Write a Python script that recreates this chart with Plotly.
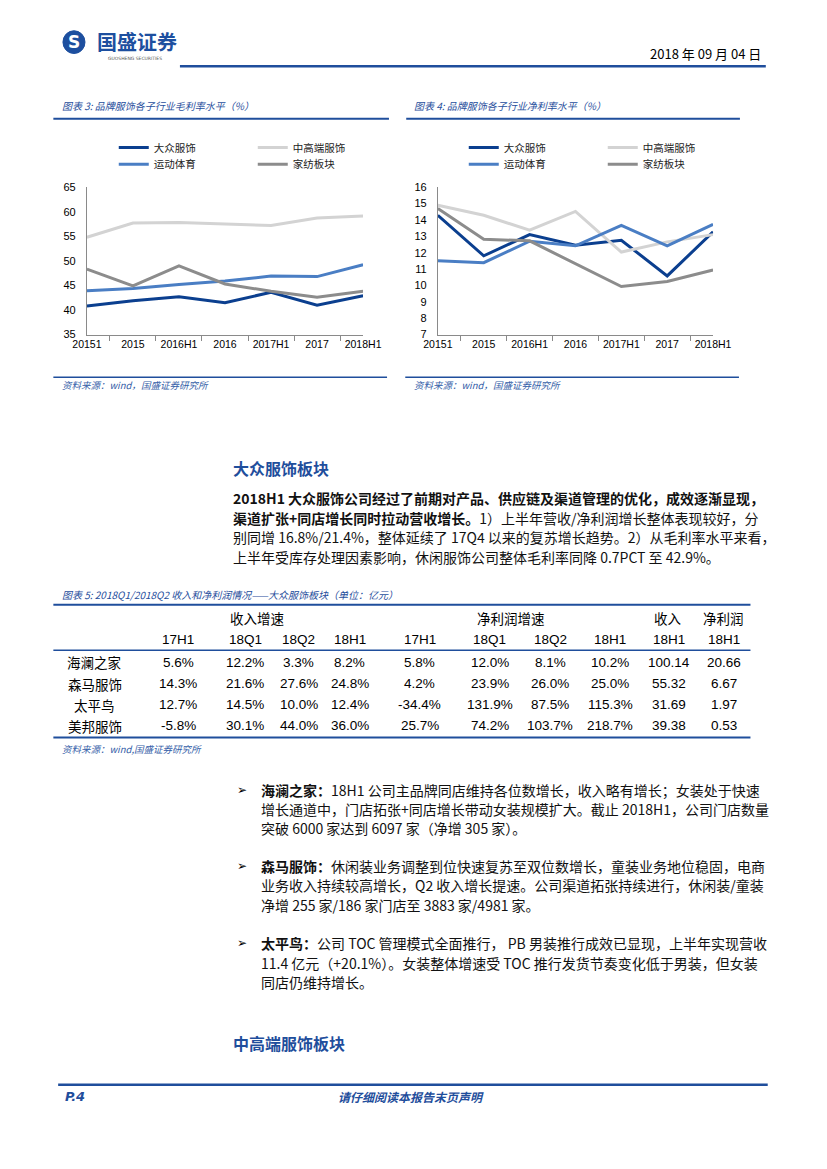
import plotly.graph_objects as go

W, H = 827, 1169

def fx(x):
    return x / W

def fy(y):
    return 1 - y / H

# ---------------- data ----------------
categories = ["20151", "2015", "2016H1", "2016", "2017H1", "2017", "2018H1"]
series_names = ["大众服饰", "中高端服饰", "运动体育", "家纺板块"]

gross_mass = [40.8, 41.9, 42.7, 41.5, 43.6, 41.0, 42.9]
gross_high = [54.8, 57.7, 57.8, 57.5, 57.2, 58.7, 59.1]
gross_sport = [43.9, 44.4, 45.2, 45.9, 46.9, 46.8, 49.2]
gross_home = [48.3, 44.9, 49.0, 45.3, 43.8, 42.6, 43.8]

net_mass = [14.28, 11.81, 13.10, 12.46, 12.76, 10.58, 13.27]
net_high = [14.89, 14.28, 13.37, 14.52, 12.04, 12.66, 13.10]
net_sport = [11.51, 11.39, 12.70, 12.42, 13.67, 12.42, 13.73]
net_home = [14.69, 12.82, 12.72, 11.35, 9.93, 10.24, 10.94]

y1_ticks = [35, 40, 45, 50, 55, 60, 65]
y2_ticks = [7, 8, 9, 10, 11, 12, 13, 14, 15, 16]

companies = ["海澜之家", "森马服饰", "太平鸟", "美邦服饰"]
rev_17h1 = [5.6, 14.3, 12.7, -5.8]
rev_18q1 = [12.2, 21.6, 14.5, 30.1]
rev_18q2 = [3.3, 27.6, 10.0, 44.0]
rev_18h1 = [8.2, 24.8, 12.4, 36.0]
np_17h1 = [5.8, 4.2, -34.4, 25.7]
np_18q1 = [12.0, 23.9, 131.9, 74.2]
np_18q2 = [8.1, 26.0, 87.5, 103.7]
np_18h1 = [10.2, 25.0, 115.3, 218.7]
revenue_18h1 = [100.14, 55.32, 31.69, 39.38]
netprofit_18h1 = [20.66, 6.67, 1.97, 0.53]
table_group_headers = ["收入增速", "净利润增速", "收入", "净利润"]
table_sub_headers = ["17H1", "18Q1", "18Q2", "18H1", "17H1", "18Q1", "18Q2", "18H1", "18H1", "18H1"]

# ---------------- styles ----------------
colors = ["#0B3F8F", "#D3D3D3", "#4A7EC4", "#8C8C8C"]
BLUE = "#1F4E9C"
SRC_BLUE = "#3560A8"
CJK = "Noto Sans CJK SC"
TICKFONT = "Liberation Sans, Arial, sans-serif"

fig = go.Figure()

gross = [gross_mass, gross_high, gross_sport, gross_home]
net = [net_mass, net_high, net_sport, net_home]
legend_ids1 = ["legend", "legend", "legend2", "legend2"]
legend_ids2 = ["legend3", "legend3", "legend4", "legend4"]

for i, name in enumerate(series_names):
    fig.add_trace(go.Scatter(
        x=categories, y=gross[i], name=name, mode="lines",
        line=dict(color=colors[i], width=3), xaxis="x", yaxis="y",
        legend=legend_ids1[i], hoverinfo="skip"))
for i, name in enumerate(series_names):
    fig.add_trace(go.Scatter(
        x=categories, y=net[i], name=name, mode="lines",
        line=dict(color=colors[i], width=3), xaxis="x2", yaxis="y2",
        legend=legend_ids2[i], hoverinfo="skip"))

axis_common = dict(showgrid=False, zeroline=False, showline=True,
                   linecolor="#8A8A8A", linewidth=1, fixedrange=True)

fig.update_layout(
    xaxis=dict(domain=[fx(75), fx(363)], type="category", ticks="outside",
               tickson="boundaries", ticklen=5, tickcolor="#8A8A8A", tickangle=0,
               tickfont=dict(family=TICKFONT, size=10.5, color="#000"),
               anchor="y", **axis_common),
    yaxis=dict(domain=[fy(332), fy(183)], range=[35, 65], tickvals=y1_ticks,
               ticks="", ticklabelstandoff=8,
               tickfont=dict(family=TICKFONT, size=11, color="#000"),
               anchor="x", **axis_common),
    xaxis2=dict(domain=[fx(441), fx(728)], type="category", ticks="outside",
                tickson="boundaries", ticklen=5, tickcolor="#8A8A8A", tickangle=0,
                tickfont=dict(family=TICKFONT, size=10.5, color="#000"),
                anchor="y2", **axis_common),
    yaxis2=dict(domain=[fy(332), fy(183)], range=[7, 16], tickvals=y2_ticks,
                ticks="", ticklabelstandoff=8,
                tickfont=dict(family=TICKFONT, size=11, color="#000"),
                anchor="x2", **axis_common),
)

leg_common = dict(orientation="h", xanchor="left", yanchor="middle",
                  bgcolor="rgba(0,0,0,0)", entrywidth=94, entrywidthmode="pixels",
                  font=dict(family=CJK, size=10.5, color="#222"),
                  itemclick=False, itemdoubleclick=False)
fig.update_layout(
    legend=dict(x=fx(103), y=fy(143), **leg_common),
    legend2=dict(x=fx(103), y=fy(160), **leg_common),
    legend3=dict(x=fx(468), y=fy(143), **leg_common),
    legend4=dict(x=fx(468), y=fy(160), **leg_common),
)

shapes = []
annotations = []

def hline(x0, x1, y, width=2, color=BLUE):
    shapes.append(dict(type="line", xref="paper", yref="paper",
                       x0=fx(x0), x1=fx(x1), y0=fy(y), y1=fy(y),
                       line=dict(color=color, width=width)))

def text(x, y, s, size=14, color="#111", family=CJK, anchor="left",
         style="normal", weight="normal"):
    annotations.append(dict(xref="paper", yref="paper", x=fx(x), y=fy(y),
                            text=s, showarrow=False, xanchor=anchor,
                            yanchor="middle",
                            font=dict(family=family, size=size, color=color,
                                      style=style, weight=weight)))

# ---------------- header ----------------
shapes.append(dict(type="circle", xref="paper", yref="paper",
                   x0=fx(50), x1=fx(73), y0=fy(48), y1=fy(25),
                   fillcolor="#1D4F9F", line=dict(color="#1D4F9F", width=1)))
text(61.5, 36.5, "<b>S</b>", size=17, color="#FFFFFF", family="DejaVu Sans", anchor="center")
text(83, 36, "<b>国盛证券</b>", size=20, color="#1D4F9F")
text(125, 53, "GUOSHENG SECURITIES", size=4.5, color="#555", family="DejaVu Sans", anchor="center")
text(780, 48, "2018 年 09 月 04 日", size=13, color="#000", anchor="right")
hline(172, 783, 61, width=2.5)

# ---------------- chart titles / sources ----------------
text(47, 101, "图表 3: 品牌服饰各子行业毛利率水平（%）", size=10, color=BLUE, style="italic")
text(414, 101, "图表 4: 品牌服饰各子行业净利率水平（%）", size=10, color=BLUE, style="italic")
hline(40, 390, 114, width=2)
hline(408, 756, 114, width=2)
hline(40, 388, 375, width=1.5)
hline(407, 755, 375, width=1.5)
text(47, 383, "资料来源：wind，国盛证券研究所", size=9.5, color=SRC_BLUE, style="italic")
text(414, 383, "资料来源：wind，国盛证券研究所", size=9.5, color=SRC_BLUE, style="italic")

# ---------------- section 1 ----------------
text(225, 467, "<b>大众服饰板块</b>", size=16, color=BLUE)
para = [
    "<b>2018H1 大众服饰公司经过了前期对产品、供应链及渠道管理的优化，成效逐渐显现，</b>",
    "<b>渠道扩张+同店增长同时拉动营收增长。</b>1）上半年营收/净利润增长整体表现较好，分",
    "别同增 16.8%/21.4%，整体延续了 17Q4 以来的复苏增长趋势。2）从毛利率水平来看，",
    "上半年受库存处理因素影响，休闲服饰公司整体毛利率同降 0.7PCT 至 42.9%。",
]
for i, line in enumerate(para):
    text(225, 497 + 20 * i, line, size=14)

# ---------------- table ----------------
text(47, 595, "图表 5: 2018Q1/2018Q2 收入和净利润情况——大众服饰板块（单位：亿元）",
     size=10, color=BLUE, style="italic")
hline(40, 767, 605, width=2)
hline(40, 767, 651, width=1.5)
hline(40, 767, 739, width=2)
text(47, 751, "资料来源：wind,国盛证券研究所", size=9.5, color=SRC_BLUE, style="italic")

col_x = [170, 240, 296, 349, 422, 495, 558, 621, 682, 739]
group_x = [252, 517, 681, 739]
for gx, g in zip(group_x, table_group_headers):
    text(gx, 618, g, size=13.5, color="#000", anchor="center")
for cx, h in zip(col_x, table_sub_headers):
    text(cx, 640, h, size=13.5, color="#000", family=TICKFONT, anchor="center")

row_y = [663, 685, 706, 727]
pct_cols = [rev_17h1, rev_18q1, rev_18q2, rev_18h1, np_17h1, np_18q1, np_18q2, np_18h1]
for r, comp in enumerate(companies):
    text(83, row_y[r], comp, size=13.5, color="#000", anchor="center")
    cells = [f"{c[r]:.1f}%" for c in pct_cols]
    cells += [f"{revenue_18h1[r]:.2f}", f"{netprofit_18h1[r]:.2f}"]
    for cx, s in zip(col_x, cells):
        text(cx, row_y[r], s, size=13.5, color="#000", family=TICKFONT, anchor="center")

# ---------------- bullets ----------------
bullets = [
    ["<b>海澜之家：</b>18H1 公司主品牌同店维持各位数增长，收入略有增长；女装处于快速",
     "增长通道中，门店拓张+同店增长带动女装规模扩大。截止 2018H1，公司门店数量",
     "突破 6000 家达到 6097 家（净增 305 家）。"],
    ["<b>森马服饰：</b>休闲装业务调整到位快速复苏至双位数增长，童装业务地位稳固，电商",
     "业务收入持续较高增长，Q2 收入增长提速。公司渠道拓张持续进行，休闲装/童装",
     "净增 255 家/186 家门店至 3883 家/4981 家。"],
    ["<b>太平鸟：</b>公司 TOC 管理模式全面推行， PB 男装推行成效已显现，上半年实现营收",
     "11.4 亿元（+20.1%）。女装整体增速受 TOC 推行发货节奏变化低于男装，但女装",
     "同店仍维持增长。"],
]
bullet_top = [792, 869, 947]
for b, lines in enumerate(bullets):
    text(229, bullet_top[b], "➢", size=12, color="#000", family="DejaVu Sans")
    for i, line in enumerate(lines):
        text(254, bullet_top[b] + 19.5 * i, line, size=14)

text(225, 1048, "<b>中高端服饰板块</b>", size=16, color=BLUE)

# ---------------- footer ----------------
hline(45, 785, 1090, width=2.5)
text(50, 1102, "<b>P.4</b>", size=13, color=BLUE, family="DejaVu Sans", style="italic")
text(413, 1102, "<b>请仔细阅读本报告末页声明</b>", size=12, color=BLUE, anchor="center", style="italic")

fig.update_layout(
    width=W, height=H, autosize=False,
    margin=dict(l=0, r=0, t=0, b=0),
    paper_bgcolor="#FFFFFF", plot_bgcolor="#FFFFFF",
    shapes=shapes, annotations=annotations,
    font=dict(family=CJK),
)

fig.write_html("out.html", config={"displayModeBar": False},
               post_script="document.body.style.margin='0';document.body.style.padding='0';")
